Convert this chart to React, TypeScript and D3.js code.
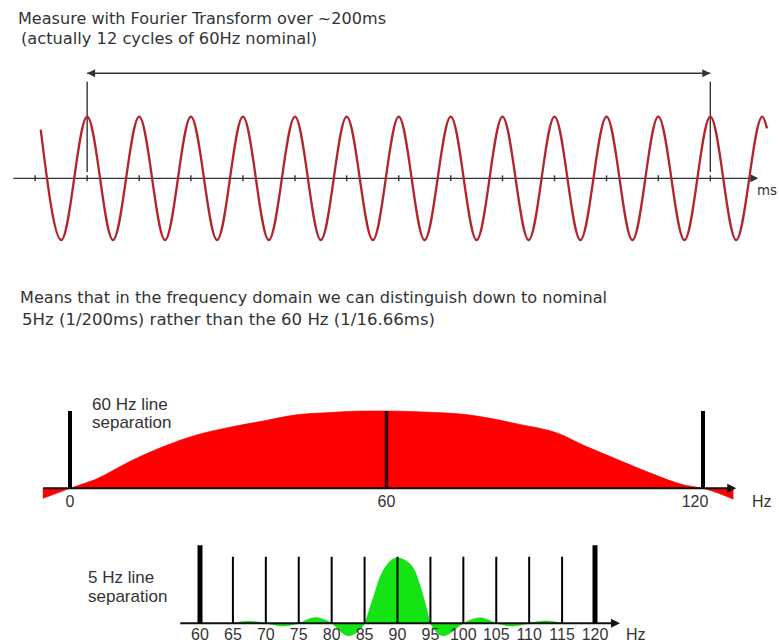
import React from "react";
import * as d3 from "d3";

// ---------- Time-domain signal (60 Hz nominal, ms) ----------
const timeDomainMs = [-23.7, 215.4];
const waveTimesMs = [
  -14.9, -8.3, 0, 8.3, 16.7, 25, 33.3, 41.7, 50, 58.3, 66.7, 75, 83.3, 91.7,
  100, 108.3, 116.7, 125, 133.3, 141.7, 150, 158.3, 166.7, 175, 183.3, 191.7,
  200, 208.3, 216.7, 218.2,
];
const waveValues = [
  0.79, -1, 1, -1, 1, -1, 1, -1, 1, -1, 1, -1, 1, -1,
  1, -1, 1, -1, 1, -1, 1, -1, 1, -1, 1, -1,
  1, -1, 1, 0.81,
];
const timeTicksMs = [-16.7, 0, 16.7, 33.3, 50, 66.7, 83.3, 100, 116.7, 133.3, 150, 166.7, 183.3, 200];
const measureWindowMs = [0, 200];

// ---------- 60 Hz line separation spectrum ----------
const redFreqHz = [-5.1, 0, 5, 11.4, 17.7, 24, 30.3, 36.6, 42.9, 49.2, 55.5, 60, 66, 75.5, 85, 92.6, 97.6, 103.9, 110.3, 116.6, 120, 125.7];
const redLevel = [-0.13, 0, 0.12, 0.35, 0.54, 0.69, 0.79, 0.87, 0.95, 0.98, 1.0, 1.0, 0.99, 0.95, 0.83, 0.71, 0.55, 0.37, 0.19, 0.04, 0, -0.14];
const redLinesHz = [0, 60, 120];
const redTickLabels = ["0", "60", "120"];

// ---------- 5 Hz line separation spectrum ----------
const greenFreqHz = [65, 67.5, 70, 72.5, 75, 77.5, 80, 82.5, 85, 85.8, 86.3, 87.3, 88.4, 90, 90.4, 92.4, 93.4, 94.4, 95, 97, 100, 102.6, 105, 107.5, 110, 112.5, 115];
const greenLevel = [0, 0.03, 0, -0.04, 0, 0.087, 0, -0.19, 0, 0.23, 0.38, 0.69, 0.89, 1.0, 0.99, 0.84, 0.58, 0.23, 0, -0.19, 0, 0.085, 0, -0.04, 0, 0.035, 0];
const greenLinesHz = [60, 65, 70, 75, 80, 85, 90, 95, 100, 105, 110, 115, 120];
const greenTickLabels = ["60", "65", "70", "75", "80", "85", "90", "95", "100", "105", "110", "115", "120"];

const TEXT = "#333";
const SANS = "'DejaVu Sans', Verdana, sans-serif";
const ARIAL = "'Liberation Sans', Arial, sans-serif";

function arrowHead(tipX: number, tipY: number, dir: number, len = 8, half = 4) {
  return `M${tipX},${tipY}L${tipX - dir * len},${tipY - half}L${tipX - dir * len},${tipY + half}Z`;
}

export default function App() {
  // time-domain scales
  const tx = d3.scaleLinear().domain(timeDomainMs).range([13.3, 758.3]);
  const wy = d3.scaleLinear().domain([-1, 1]).range([240, 116.7]);
  const wavePts: [number, number][] = waveTimesMs.map((t, i) => [t, waveValues[i]]);
  const wavePath = d3
    .line<[number, number]>()
    .x((d) => tx(d[0]))
    .y((d) => wy(d[1]))
    .curve(d3.curveMonotoneX)(wavePts) as string;
  const axisY = wy(0);

  // red spectrum scales
  const rx = d3.scaleLinear().domain([0, 120]).range([70, 703]);
  const ry = d3.scaleLinear().domain([0, 1]).range([488.3, 411]);
  const redPts: [number, number][] = redFreqHz.map((f, i) => [f, redLevel[i]]);
  const redArea = d3
    .area<[number, number]>()
    .x((d) => rx(d[0]))
    .y0(ry(0))
    .y1((d) => ry(d[1]))
    .curve(d3.curveMonotoneX)(redPts) as string;

  // green spectrum scales
  const gx = d3.scaleLinear().domain([60, 120]).range([200, 595]);
  const gy = d3.scaleLinear().domain([0, 1]).range([623.3, 557.7]);
  const greenPts: [number, number][] = greenFreqHz.map((f, i) => [f, greenLevel[i]]);
  const greenArea = d3
    .area<[number, number]>()
    .x((d) => gx(d[0]))
    .y0(gy(0))
    .y1((d) => gy(d[1]))
    .curve(d3.curveMonotoneX)(greenPts) as string;

  const mx0 = tx(measureWindowMs[0]);
  const mx1 = tx(measureWindowMs[1]);
  const measureY = 73.3;

  const redAxisL = rx(-5.1);
  const redAxisR = rx(126.3);
  const greenAxisL = gx(57);
  const greenAxisR = gx(63.8 + 60);

  return (
    <svg
      width={779}
      height={644}
      viewBox="0 0 779 644"
      style={{ position: "absolute", left: 0, top: 0, background: "#fff" }}
    >
      <rect x={0} y={0} width={779} height={644} fill="#fff" />

      {/* Top text */}
      <text x={18} y={24} fontFamily={SANS} fontSize={16} fill={TEXT} textLength={368} lengthAdjust="spacingAndGlyphs">
        Measure with  Fourier Transform over ~200ms
      </text>
      <text x={21} y={44} fontFamily={SANS} fontSize={16} fill={TEXT} textLength={296} lengthAdjust="spacingAndGlyphs">
        (actually 12 cycles of 60Hz nominal)
      </text>

      {/* Measurement window */}
      <line x1={mx0} x2={mx1} y1={measureY} y2={measureY} stroke="#333" strokeWidth={1.4} />
      <path d={arrowHead(mx0, measureY, -1)} fill="#333" />
      <path d={arrowHead(mx1, measureY, 1)} fill="#333" />
      <line x1={mx0} x2={mx0} y1={81.7} y2={172} stroke="#333" strokeWidth={1.4} />
      <line x1={mx1} x2={mx1} y1={81.7} y2={172} stroke="#333" strokeWidth={1.4} />

      {/* Time axis */}
      <line x1={tx(timeDomainMs[0])} x2={tx(timeDomainMs[1]) - 4} y1={axisY} y2={axisY} stroke="#333" strokeWidth={1.4} />
      <path d={arrowHead(tx(timeDomainMs[1]), axisY, 1)} fill="#333" />
      {timeTicksMs.map((t, i) => (
        <line key={i} x1={tx(t)} x2={tx(t)} y1={axisY - 3} y2={axisY + 3} stroke="#333" strokeWidth={1.4} />
      ))}
      <text x={757} y={195} fontFamily={SANS} fontSize={14} fill={TEXT} textLength={20} lengthAdjust="spacingAndGlyphs">ms</text>

      {/* Sine wave */}
      <path d={wavePath} fill="none" stroke="#b3242c" strokeWidth={2.3} />

      {/* Middle text */}
      <text x={20} y={303} fontFamily={SANS} fontSize={16} fill={TEXT} textLength={587} lengthAdjust="spacingAndGlyphs">
        Means that in the frequency domain we can distinguish down to nominal
      </text>
      <text x={22} y={325} fontFamily={SANS} fontSize={16} fill={TEXT} textLength={413} lengthAdjust="spacingAndGlyphs">
        5Hz (1/200ms) rather than the 60 Hz (1/16.66ms)
      </text>

      {/* Red spectrum */}
      <path d={redArea} fill="#ff0000" stroke="#e80000" strokeWidth={0.6} />
      <line x1={redAxisL} x2={redAxisR - 4} y1={ry(0)} y2={ry(0)} stroke="#111" strokeWidth={2} />
      <path d={arrowHead(redAxisR, ry(0), 1, 9, 4.5)} fill="#111" />
      {redLinesHz.map((f, i) => (
        <line
          key={i}
          x1={rx(f)}
          x2={rx(f)}
          y1={ry(1)}
          y2={ry(0)}
          stroke={f === 60 ? "#2a0000" : "#000"}
          strokeWidth={f === 60 ? 3.5 : 4}
        />
      ))}
      {redLinesHz.map((f, i) => (
        <text
          key={i}
          x={rx(f) + (i === redLinesHz.length - 1 ? -8 : 0)}
          y={507}
          textAnchor="middle"
          fontFamily={ARIAL}
          fontSize={16}
          fill={TEXT}
        >
          {redTickLabels[i]}
        </text>
      ))}
      <text x={752} y={507} fontFamily={ARIAL} fontSize={16} fill={TEXT}>Hz</text>
      <text x={92} y={410} fontFamily={ARIAL} fontSize={17} fill={TEXT}>60 Hz line</text>
      <text x={92} y={428} fontFamily={ARIAL} fontSize={17} fill={TEXT}>separation</text>

      {/* Green spectrum */}
      <path d={greenArea} fill="#14e414" stroke="#10d010" strokeWidth={0.6} />
      <line x1={greenAxisL} x2={greenAxisR - 4} y1={gy(0)} y2={gy(0)} stroke="#111" strokeWidth={2} />
      <path d={arrowHead(greenAxisR, gy(0), 1, 9, 4.5)} fill="#111" />
      {greenLinesHz.map((f, i) => {
        const thick = i === 0 || i === greenLinesHz.length - 1;
        return (
          <line
            key={i}
            x1={gx(f)}
            x2={gx(f)}
            y1={thick ? gy(1.19) : gy(1.015)}
            y2={gy(0)}
            stroke="#000"
            strokeWidth={thick ? 5 : 2}
          />
        );
      })}
      {greenLinesHz.map((f, i) => (
        <text key={i} x={gx(f)} y={640} textAnchor="middle" fontFamily={ARIAL} fontSize={16} fill={TEXT}>
          {greenTickLabels[i]}
        </text>
      ))}
      <text x={626} y={640} fontFamily={ARIAL} fontSize={16} fill={TEXT}>Hz</text>
      <text x={88} y={583} fontFamily={ARIAL} fontSize={17} fill={TEXT}>5 Hz line</text>
      <text x={88} y={602} fontFamily={ARIAL} fontSize={17} fill={TEXT}>separation</text>
    </svg>
  );
}
